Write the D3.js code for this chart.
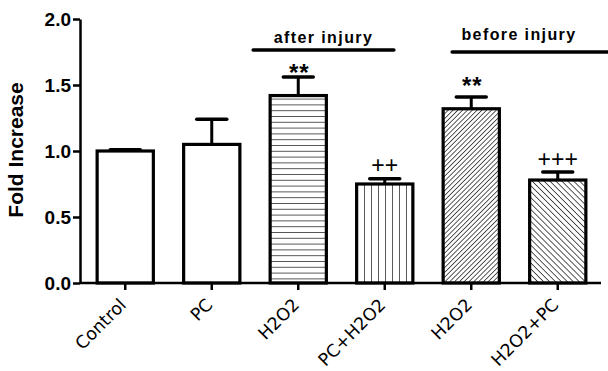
<!DOCTYPE html>
<html>
<head>
<meta charset="utf-8">
<script src="https://cdn.jsdelivr.net/npm/d3@7"></script>
<style>
  html, body { margin: 0; padding: 0; background: #fff; }
  svg { display: block; }
</style>
</head>
<body>
<svg id="chart" width="608" height="371"></svg>
<script>
// Groups along the x axis
const categories = ["Control", "PC", "H2O2", "PC+H2O2", "H2O2", "H2O2+PC"];
// Mean fold increase and SEM for each group
const means = [1.00, 1.05, 1.42, 0.75, 1.32, 0.78];
const errors = [0.01, 0.19, 0.14, 0.04, 0.09, 0.06];
// Significance marks above bars
const marks = ["", "", "**", "++", "**", "+++"];
// Fill pattern of each bar
const fills = ["none", "none", "horiz", "vert", "fwd", "back"];
// Y axis ticks
const yTicks = [0, 0.5, 1.0, 1.5, 2.0];
// Bracket labels above the grouped bars
const groupLabels = ["after injury", "before injury"];
const groupSpans = [[2, 3], [4, 5]];

const svg = d3.select("#chart");
const ids = d3.range(categories.length);
const FONT = "Liberation Sans, Arial, sans-serif";

const x = d3.scaleBand().domain(ids).range([82, 601]).paddingInner(0.35).paddingOuter(0.175);
const y = d3.scaleLinear().domain([0, 2]).range([283, 19]);

// hatch patterns
const defs = svg.append("defs");
function hatch(id, size, angle) {
  const p = defs.append("pattern")
    .attr("id", id).attr("patternUnits", "userSpaceOnUse")
    .attr("width", size).attr("height", size)
    .attr("patternTransform", `rotate(${angle})`);
  p.append("rect").attr("width", size).attr("height", size).attr("fill", "#fff");
  p.append("line").attr("x1", 0).attr("y1", 0).attr("x2", 0).attr("y2", size)
    .attr("stroke", "#000").attr("stroke-width", 1.3);
}
hatch("horiz", 5.8, 90);
hatch("vert", 7, 0);
hatch("fwd", 3.4, 45);
hatch("back", 4.2, -45);

// y axis
const yAxis = svg.append("g").attr("transform", "translate(80,0)")
  .call(d3.axisLeft(y).tickValues(yTicks).tickFormat(d3.format(".1f")).tickSize(7).tickSizeOuter(0));
yAxis.select(".domain").attr("stroke", "#000").attr("stroke-width", 2.5);
yAxis.selectAll(".tick line").attr("stroke", "#000").attr("stroke-width", 2.5);
yAxis.selectAll(".tick text")
  .attr("x", -9).attr("dy", "0.36em")
  .attr("font-family", FONT)
  .attr("font-weight", "bold").attr("font-size", 19).attr("fill", "#000");

svg.append("text")
  .attr("transform", "translate(23,150) rotate(-90)")
  .attr("text-anchor", "middle")
  .attr("font-family", FONT)
  .attr("font-weight", "bold").attr("font-size", 21)
  .text("Fold Increase");

// bars
const bars = svg.append("g");
bars.selectAll("rect").data(ids).join("rect")
  .attr("x", i => x(i))
  .attr("y", i => y(means[i]))
  .attr("width", x.bandwidth())
  .attr("height", i => y(0) - y(means[i]))
  .attr("fill", i => fills[i] === "none" ? "#fff" : `url(#${fills[i]})`)
  .attr("stroke", "#000").attr("stroke-width", 3.2);

// error bars (upper half only)
const eb = svg.append("g").attr("stroke", "#000");
ids.forEach(i => {
  const cx = x(i) + x.bandwidth() / 2;
  eb.append("line").attr("x1", cx).attr("x2", cx)
    .attr("y1", y(means[i])).attr("y2", y(means[i] + errors[i])).attr("stroke-width", 3);
  eb.append("line").attr("x1", cx - 15).attr("x2", cx + 15)
    .attr("y1", y(means[i] + errors[i])).attr("y2", y(means[i] + errors[i]))
    .attr("stroke-width", 3.5).attr("stroke-linecap", "round");
});

// significance marks: asterisks vs. control, plus signs vs. H2O2
const sig = svg.append("g").attr("font-family", FONT).attr("text-anchor", "middle");
ids.filter(i => marks[i]).forEach(i => {
  const cx = x(i) + x.bandwidth() / 2;
  const star = marks[i][0] === "*";
  sig.append("text")
    .attr("x", cx + (star ? 1 : 0))
    .attr("y", star ? y(means[i]) - 15 : y(means[i] + errors[i]) - 5.5)
    .attr("font-size", star ? 24 : 23)
    .attr("font-weight", star ? "bold" : "normal")
    .attr("letter-spacing", star ? 1 : 0)
    .text(marks[i]);
});

// x axis
const xAxis = svg.append("g").attr("transform", "translate(0,283)")
  .call(d3.axisBottom(x).tickSize(7).tickSizeOuter(0).tickFormat(i => categories[i]));
xAxis.select(".domain").attr("d", "M80,0H601").attr("stroke", "#000").attr("stroke-width", 2.5);
xAxis.selectAll(".tick line").attr("stroke", "#000").attr("stroke-width", 2.5);
xAxis.selectAll(".tick text")
  .attr("font-family", "DejaVu Sans, sans-serif")
  .attr("font-size", 17.5).attr("fill", "#000")
  .attr("text-anchor", "end")
  .attr("transform", "translate(2,23) rotate(-45)")
  .attr("y", 0).attr("dy", 0);

// group brackets
const gb = svg.append("g");
groupSpans.forEach((s, k) => {
  const x0 = k === 0 ? x(s[0]) - 17 : x(s[0]) + 9;
  const x1 = k === 0 ? x(s[1]) + x.bandwidth() - 19 : 612;
  const ly = k === 0 ? 50 : 52;
  gb.append("line").attr("x1", x0).attr("x2", x1).attr("y1", ly).attr("y2", ly)
    .attr("stroke", "#000").attr("stroke-width", 3.5).attr("stroke-linecap", "round");
  const tx = k === 0 ? (x0 + x1) / 2 : 519;
  gb.append("text").attr("x", tx).attr("y", k === 0 ? 43 : 40)
    .attr("text-anchor", "middle")
    .attr("font-family", FONT)
    .attr("font-weight", "bold").attr("font-size", 16).attr("letter-spacing", 1.4)
    .text(groupLabels[k]);
});
</script>
</body>
</html>
